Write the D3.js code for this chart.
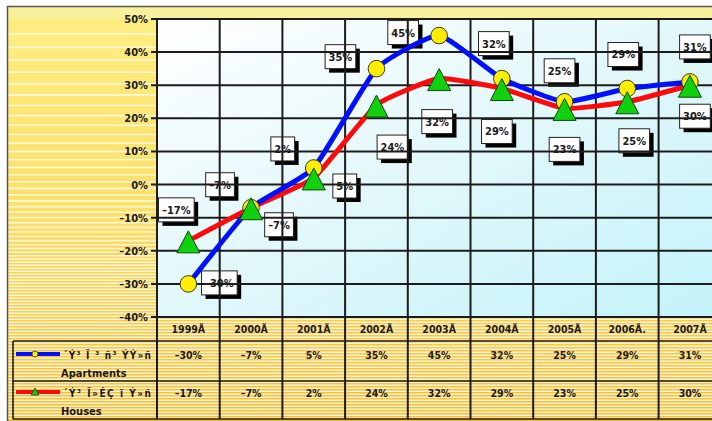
<!DOCTYPE html>
<html>
<head>
<meta charset="utf-8">
<script src="https://cdn.jsdelivr.net/npm/d3@7"></script>
<style>
  html, body { margin: 0; padding: 0; background: #fff; }
  svg { display: block; }
  text { font-family: "DejaVu Sans Condensed", "DejaVu Sans", sans-serif; font-weight: bold; fill: #1a1a1a; }
</style>
</head>
<body>
<svg id="chart" width="712" height="421"></svg>
<script>
// Price growth by year, percent
const years = ["1999Ã", "2000Ã", "2001Ã", "2002Ã", "2003Ã", "2004Ã", "2005Ã", "2006Ã.", "2007Ã"];
const apartments = [-30, -7, 5, 35, 45, 32, 25, 29, 31];
const houses = [-17, -7, 2, 24, 32, 29, 23, 25, 30];
const yTicks = [-40, -30, -20, -10, 0, 10, 20, 30, 40, 50];
const seriesNames = [
  { arm: "´Ý³ Ï ³ ñ³ ÝÝ»ñ", en: "Apartments" },
  { arm: "´Ý³ Ï»ÉÇ ï Ý»ñ", en: "Houses" }
];

// Callout placement around each point (pixel offsets of the box centre)
const aptLabelOffsets = [[31, -1], [28, 17], [31, 18], [-36, -12], [-36, -3], [-8, -35], [-5, -31], [-4, -34], [5, -35]];
const houseLabelOffsets = [[-12, -31], [-31, -23], [-31, -29], [16, 42], [-2, 43], [-5, 43], [0, 41], [7, 39], [5, 31]];

const svg = d3.select("#chart");
const W = 712, H = 421;
const plot = { left: 157, top: 19, bottom: 317, colW: 62.7 };
const table = { left: 13, top: 341, mid: 381, bottom: 419, header: 329 };

const x = d3.scaleBand().domain(years).range([plot.left, plot.left + plot.colW * years.length]);
const y = d3.scaleLinear().domain([-40, 50]).range([plot.bottom, plot.top]);
const fmt = v => (v < 0 ? "–" : "") + Math.abs(v) + "%";

const defs = svg.append("defs");
const bg = defs.append("linearGradient").attr("id", "bgGrad").attr("x1", 0).attr("y1", 0).attr("x2", 0).attr("y2", 1);
bg.append("stop").attr("offset", 0).attr("stop-color", "#fdee82");
bg.append("stop").attr("offset", 0.5).attr("stop-color", "#fbdf68");
bg.append("stop").attr("offset", 0.78).attr("stop-color", "#f7c948");
bg.append("stop").attr("offset", 1).attr("stop-color", "#f5bd32");
const pg = defs.append("linearGradient").attr("id", "plotGrad").attr("x1", 0).attr("y1", 0).attr("x2", 1).attr("y2", 1);
pg.append("stop").attr("offset", 0).attr("stop-color", "#ffffff");
pg.append("stop").attr("offset", 0.45).attr("stop-color", "#e4f8fb");
pg.append("stop").attr("offset", 1).attr("stop-color", "#c2f3f9");
defs.append("clipPath").attr("id", "plotClip").append("rect")
  .attr("x", plot.left).attr("y", plot.top).attr("width", W - plot.left + 20).attr("height", plot.bottom - plot.top);

// Background and frame
svg.append("rect").attr("width", W).attr("height", H).attr("fill", "#fff");
svg.append("rect").attr("x", 8).attr("y", 7).attr("width", W).attr("height", H).attr("fill", "url(#bgGrad)");
svg.append("rect").attr("x", 8).attr("y", 7).attr("width", W).attr("height", 12).attr("fill", "#f9f09c");

// Striped texture, tighter toward the bottom
const stripes = [];
for (let sy = 34, s = 14; sy < H; sy += s) {
  stripes.push(sy);
  s = Math.max(3, 14 - (sy - 19) * 0.045);
}
svg.append("g").selectAll("line").data(stripes).join("line")
  .attr("x1", 8).attr("x2", W).attr("y1", d => d).attr("y2", d => d)
  .attr("stroke", "#fffcec").attr("stroke-opacity", 0.85).attr("stroke-width", 1.6);

svg.append("line").attr("x1", 7).attr("x2", W).attr("y1", 6.5).attr("y2", 6.5).attr("stroke", "#555").attr("stroke-width", 1.5);
svg.append("line").attr("x1", 7.5).attr("x2", 7.5).attr("y1", 6).attr("y2", H).attr("stroke", "#555").attr("stroke-width", 1.5);

// Plot area
svg.append("rect").attr("x", plot.left).attr("y", plot.top)
  .attr("width", W - plot.left + 20).attr("height", plot.bottom - plot.top).attr("fill", "url(#plotGrad)");

// Value callouts (boxes with drop shadow)
const labelsG = svg.append("g").attr("clip-path", "url(#plotClip)");
function callouts(values, offsets) {
  values.forEach((v, i) => {
    const cx = x(years[i]) + x.bandwidth() / 2 + offsets[i][0];
    const cy = y(v) + offsets[i][1];
    const g = labelsG.append("g");
    const t = g.append("text").attr("x", cx).attr("y", cy).attr("dy", "0.36em")
      .attr("text-anchor", "middle").attr("font-size", 11).text(fmt(v));
    const w = t.node().getComputedTextLength() + 7, h = 24;
    g.insert("rect", "text").attr("x", cx - w / 2 + 4).attr("y", cy - h / 2 + 4).attr("width", w).attr("height", h).attr("fill", "#000");
    g.insert("rect", "text").attr("x", cx - w / 2).attr("y", cy - h / 2).attr("width", w).attr("height", h)
      .attr("fill", "#fff").attr("stroke", "#222").attr("stroke-width", 1);
  });
}
callouts(apartments, aptLabelOffsets);
callouts(houses, houseLabelOffsets);

// Gridlines
const grid = svg.append("g").attr("stroke", "#1c1c1c").attr("stroke-width", 2);
grid.selectAll("line.h").data(yTicks).join("line").attr("class", "h")
  .attr("x1", plot.left - 6).attr("x2", W).attr("y1", d => y(d)).attr("y2", d => y(d));
const bounds = years.map(d => x(d)).concat([x.range()[1]]);
grid.selectAll("line.v").data(bounds).join("line").attr("class", "v")
  .attr("x1", d => d).attr("x2", d => d).attr("y1", plot.top).attr("y2", table.bottom);

// Y axis labels
const yAxis = d3.axisLeft(y).tickValues(yTicks).tickSize(0).tickPadding(9).tickFormat(fmt);
const ya = svg.append("g").attr("transform", `translate(${plot.left},0)`).call(yAxis);
ya.select(".domain").remove();
ya.selectAll("text").attr("font-size", 11).attr("fill", "#1a1a1a")
  .attr("font-family", "\"DejaVu Sans Condensed\", \"DejaVu Sans\", sans-serif");

// Series lines and markers
const line = d3.line().x((d, i) => x(years[i]) + x.bandwidth() / 2).y(d => y(d)).curve(d3.curveCardinal.tension(0.55));
svg.append("path").datum(houses).attr("d", line).attr("fill", "none").attr("stroke", "#ff0a0a").attr("stroke-width", 5);
svg.append("path").datum(apartments).attr("d", line).attr("fill", "none").attr("stroke", "#0010ff").attr("stroke-width", 5);

svg.append("g").selectAll("circle").data(apartments).join("circle")
  .attr("cx", (d, i) => x(years[i]) + x.bandwidth() / 2).attr("cy", d => y(d)).attr("r", 8.3)
  .attr("fill", "#ffee00").attr("stroke", "#3a3a1a").attr("stroke-width", 1);
const tri = (cx, cy, w, h) => `M${cx},${cy - h / 2}L${cx + w / 2},${cy + h / 2}L${cx - w / 2},${cy + h / 2}Z`;
svg.append("g").selectAll("path").data(houses).join("path")
  .attr("d", (d, i) => tri(x(years[i]) + x.bandwidth() / 2, y(d) + 1, 23, 22))
  .attr("fill", "#10d010").attr("stroke", "#0a4a0a").attr("stroke-width", 1);

// Data table
svg.append("g").selectAll("text").data(years).join("text")
  .attr("x", d => x(d) + x.bandwidth() / 2).attr("y", table.header).attr("dy", "0.36em")
  .attr("text-anchor", "middle").attr("font-size", 10.5).text(d => d);
const tb = svg.append("g").attr("stroke", "#1c1c1c").attr("stroke-width", 1.6).attr("fill", "none");
tb.append("line").attr("x1", table.left).attr("x2", W).attr("y1", table.top).attr("y2", table.top);
tb.append("line").attr("x1", table.left).attr("x2", W).attr("y1", table.mid).attr("y2", table.mid);
tb.append("line").attr("x1", table.left).attr("x2", W).attr("y1", table.bottom).attr("y2", table.bottom);
tb.append("line").attr("x1", table.left).attr("x2", table.left).attr("y1", table.top).attr("y2", table.bottom);

[[apartments, 355], [houses, 393]].forEach(([vals, ty]) => {
  svg.append("g").selectAll("text").data(vals).join("text")
    .attr("x", (d, i) => x(years[i]) + x.bandwidth() / 2).attr("y", ty).attr("dy", "0.36em")
    .attr("text-anchor", "middle").attr("font-size", 10.5).text(fmt);
});

// Legend keys inside the table
const keys = svg.append("g");
keys.append("line").attr("x1", 16).attr("x2", 60).attr("y1", 354).attr("y2", 354).attr("stroke", "#0010ff").attr("stroke-width", 4);
keys.append("circle").attr("cx", 35).attr("cy", 354).attr("r", 3).attr("fill", "#ffee00").attr("stroke", "#333").attr("stroke-width", 0.8);
keys.append("line").attr("x1", 16).attr("x2", 60).attr("y1", 392).attr("y2", 392).attr("stroke", "#ff0a0a").attr("stroke-width", 4);
keys.append("path").attr("d", tri(35, 391.5, 8, 7)).attr("fill", "#10d010").attr("stroke", "#0a4a0a").attr("stroke-width", 0.8);
seriesNames.forEach((s, i) => {
  const base = i === 0 ? 355 : 393;
  keys.append("text").attr("x", 63).attr("y", base).attr("dy", "0.36em").attr("font-size", 10)
    .attr("textLength", 88).attr("lengthAdjust", "spacing").text(s.arm);
  keys.append("text").attr("x", 61).attr("y", base + 18).attr("dy", "0.36em").attr("font-size", 11).text(s.en);
});
</script>
</body>
</html>
